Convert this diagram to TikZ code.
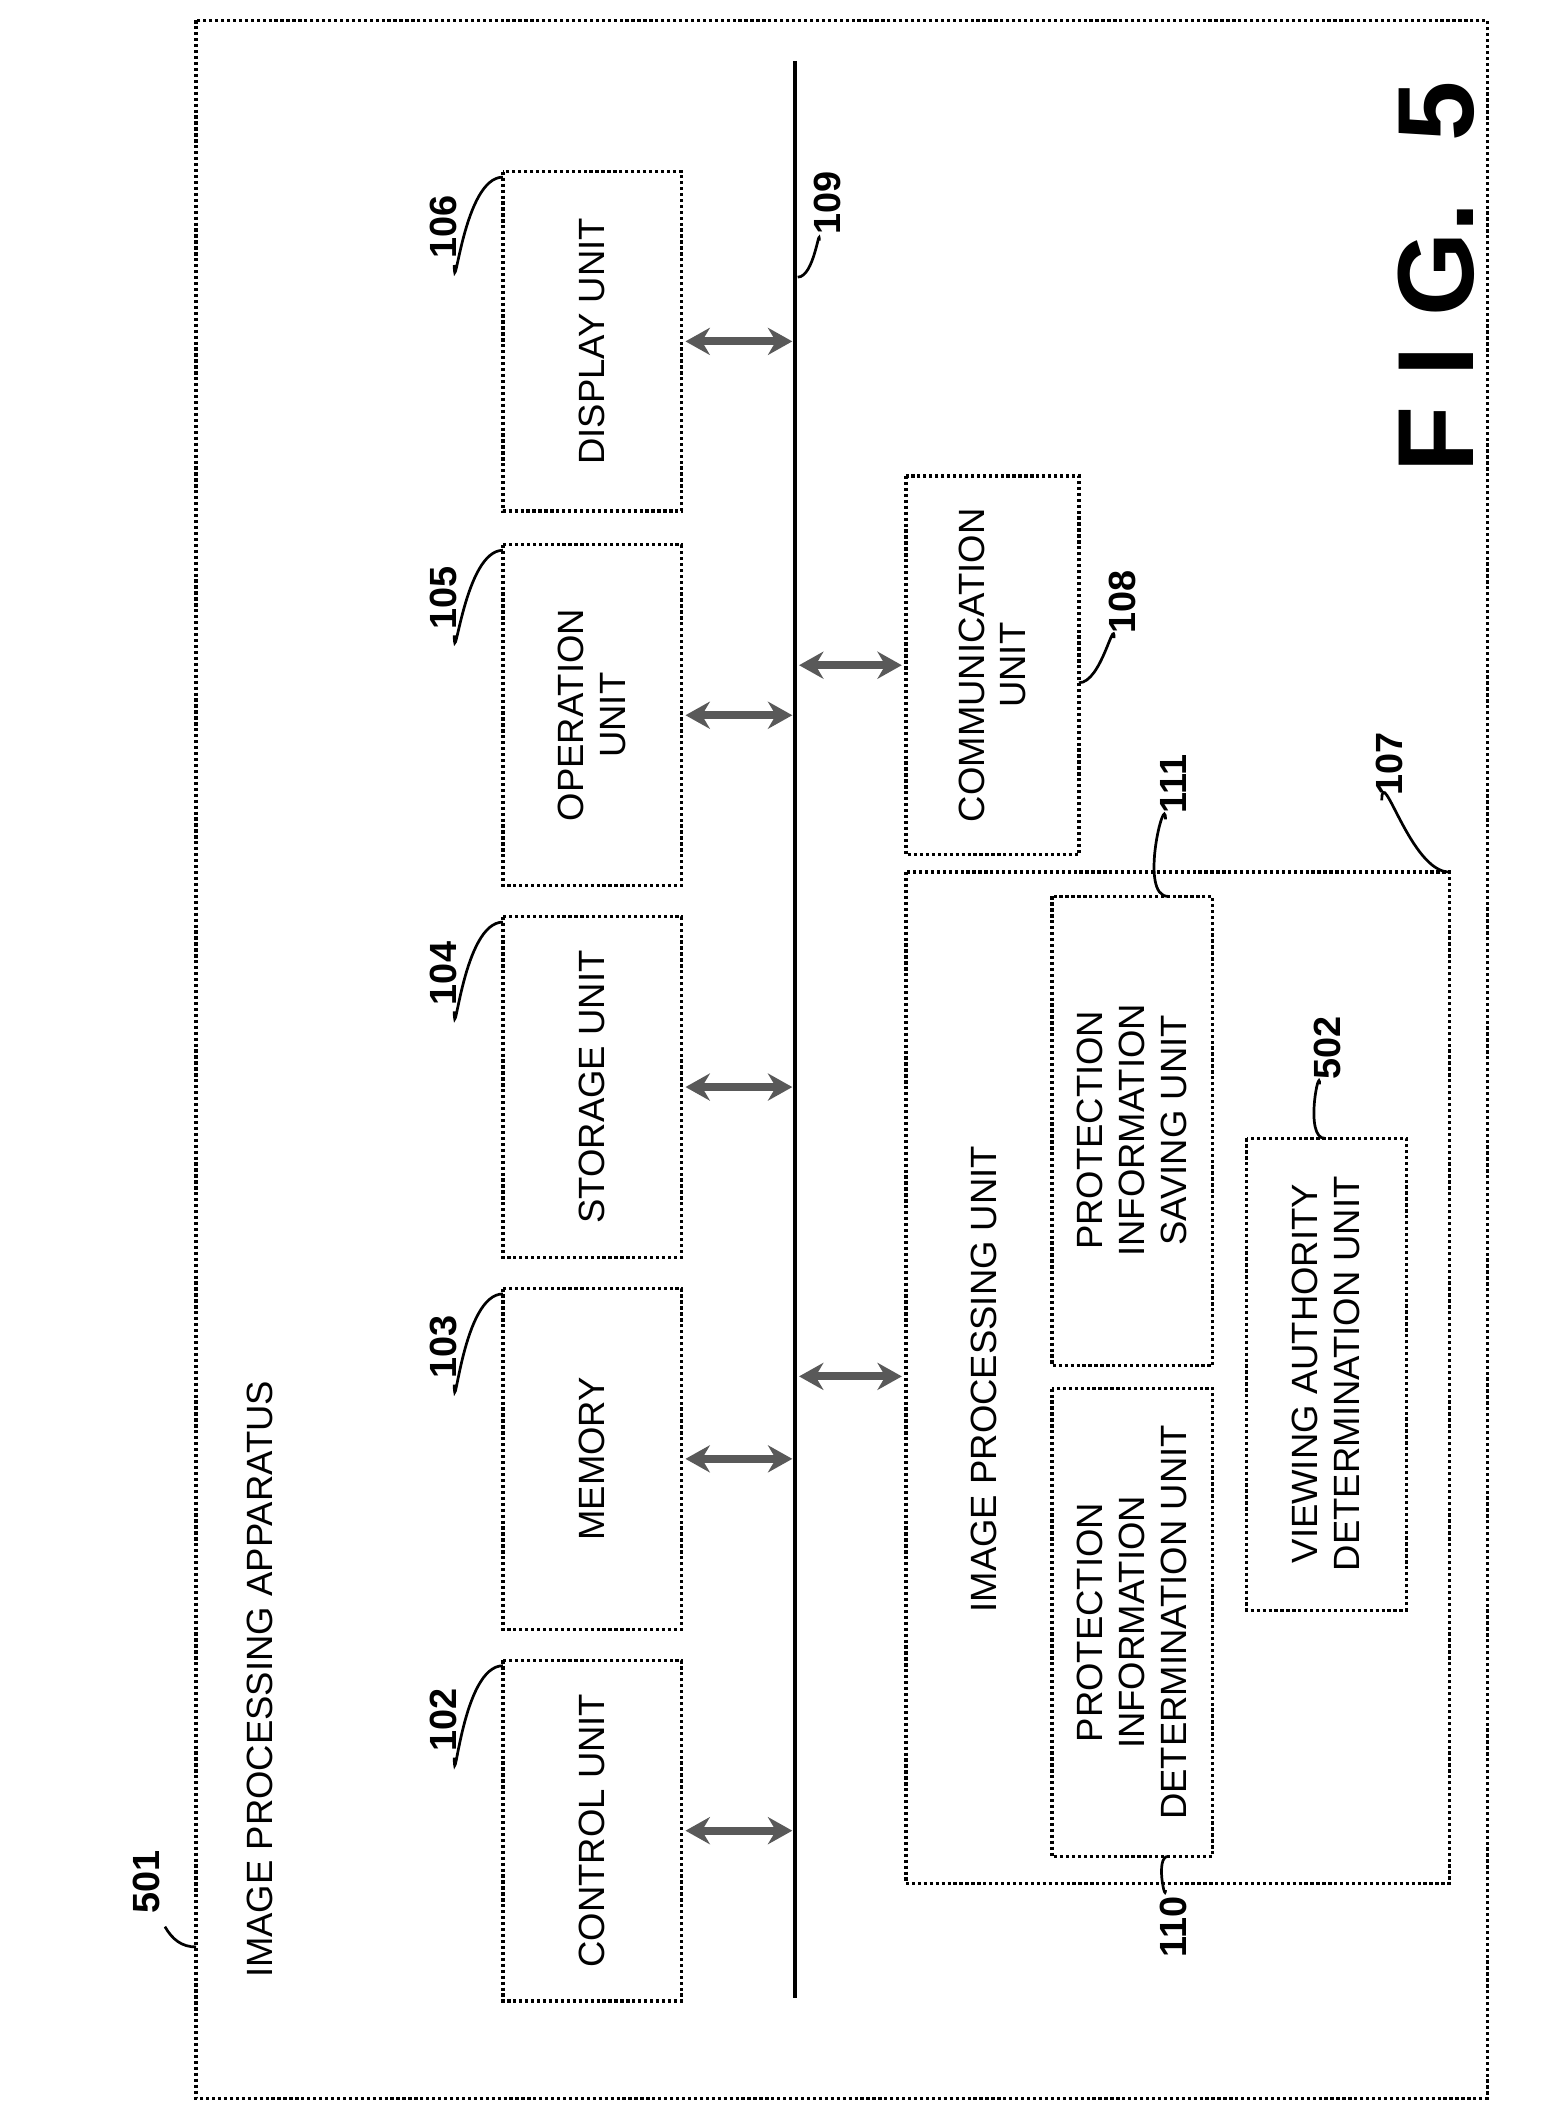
\documentclass[tikz,border=0pt]{standalone}
\usepackage{fontspec}
\setmainfont{Liberation Sans}
\usetikzlibrary{arrows.meta}
\begin{document}
\begin{tikzpicture}[x=0.5pt,y=-0.5pt,
 box/.style={draw,densely dotted,line width=1.2pt},
 txt/.style={rotate=90,align=center,font=\fontsize{13.5}{15.5}\selectfont},
 lbl/.style={rotate=90,font=\bfseries\fontsize{14}{16}\selectfont},
 arr/.style={{Stealth[length=9pt,width=10pt]}-{Stealth[length=9pt,width=10pt]},line width=3pt,gray!70!black},
 lead/.style={line width=1pt}]
\useasboundingbox (0,0) rectangle (1145,1568);
\draw[box] (145,15) rectangle (1100,1552);
\node[rotate=90,font=\bfseries\fontsize{40}{44}\selectfont] (fig) at (1062,205) {F I G.\ \ 5};
\coordinate (bt) at (588,45); \coordinate (bb) at (588,1478);
\draw[line width=1.2pt] (bt) -- (bb);
\foreach \n/\ya/\yb/\t in {disp/127/378/DISPLAY UNIT,oper/403/655/OPERATION\\UNIT,stor/678/930/STORAGE UNIT,mem/953/1205/MEMORY,ctrl/1228/1480/CONTROL UNIT}{
 \draw[box] (372,\ya) rectangle (504,\yb);
 \node[txt] (\n) at (438,{(\ya+\yb)/2}) {\t};
 \coordinate (\n a) at (507,{(\ya+\yb)/2});
 \coordinate (\n b) at (586,{(\ya+\yb)/2});
 \draw[arr] (\n a) -- (\n b);
}
\draw[box] (670,352) rectangle (798,632);
\node[txt] (comm) at (734,492) {COMMUNICATION\\UNIT};
\coordinate (ca) at (591,492); \coordinate (cb) at (667,492);
\draw[arr] (ca) -- (cb);
\draw[box] (670,645) rectangle (1072,1393);
\node[txt] (ipu) at (728,1020) {IMAGE PROCESSING UNIT};
\coordinate (ia) at (591,1018); \coordinate (ib) at (667,1018);
\draw[arr] (ia) -- (ib);
\draw[box] (778,663) rectangle (897,1010);
\node[txt] (pis) at (837,836) {PROTECTION\\INFORMATION\\SAVING UNIT};
\draw[box] (778,1027) rectangle (897,1373);
\node[txt] (pid) at (837,1200) {PROTECTION\\INFORMATION\\DETERMINATION UNIT};
\draw[box] (922,842) rectangle (1040,1191);
\node[txt] (vad) at (981,1016) {VIEWING AUTHORITY\\DETERMINATION UNIT};
\node[lbl] (l501) at (108,1392) {501};
\draw[lead] (145,1440) to[out=180,in=-60] (122,1425);
\node[txt,anchor=west] (app) at (192,1470) {IMAGE PROCESSING APPARATUS};
\node[lbl] (l102) at (328,1272) {102}; \draw[lead] (372,1232) to[out=180,in=-90] (336,1300);
\node[lbl] (l103) at (328,996) {103}; \draw[lead] (372,957) to[out=180,in=-90] (336,1024);
\node[lbl] (l104) at (328,720) {104}; \draw[lead] (372,682) to[out=180,in=-90] (336,748);
\node[lbl] (l105) at (328,442) {105}; \draw[lead] (372,407) to[out=180,in=-90] (336,470);
\node[lbl] (l106) at (328,168) {106}; \draw[lead] (372,131) to[out=180,in=-90] (336,196);
\node[lbl] (l109) at (612,150) {109}; \draw[lead] (590,205) to[out=0,in=90] (606,178);
\node[lbl] (l108) at (830,445) {108}; \draw[lead] (798,505) to[out=0,in=90] (824,472);
\node[lbl] (l111) at (868,580) {111}; \draw[lead] (864,663) to[out=180,in=90] (862,606);
\node[lbl] (l107) at (1028,565) {107}; \draw[lead] (1072,645) to[out=180,in=90] (1022,592);
\node[lbl] (l502) at (982,775) {502}; \draw[lead] (980,842) to[out=180,in=90] (976,802);
\node[lbl] (l110) at (868,1425) {110}; \draw[lead] (864,1373) to[out=180,in=-90] (862,1398);
\end{tikzpicture}
\end{document}
